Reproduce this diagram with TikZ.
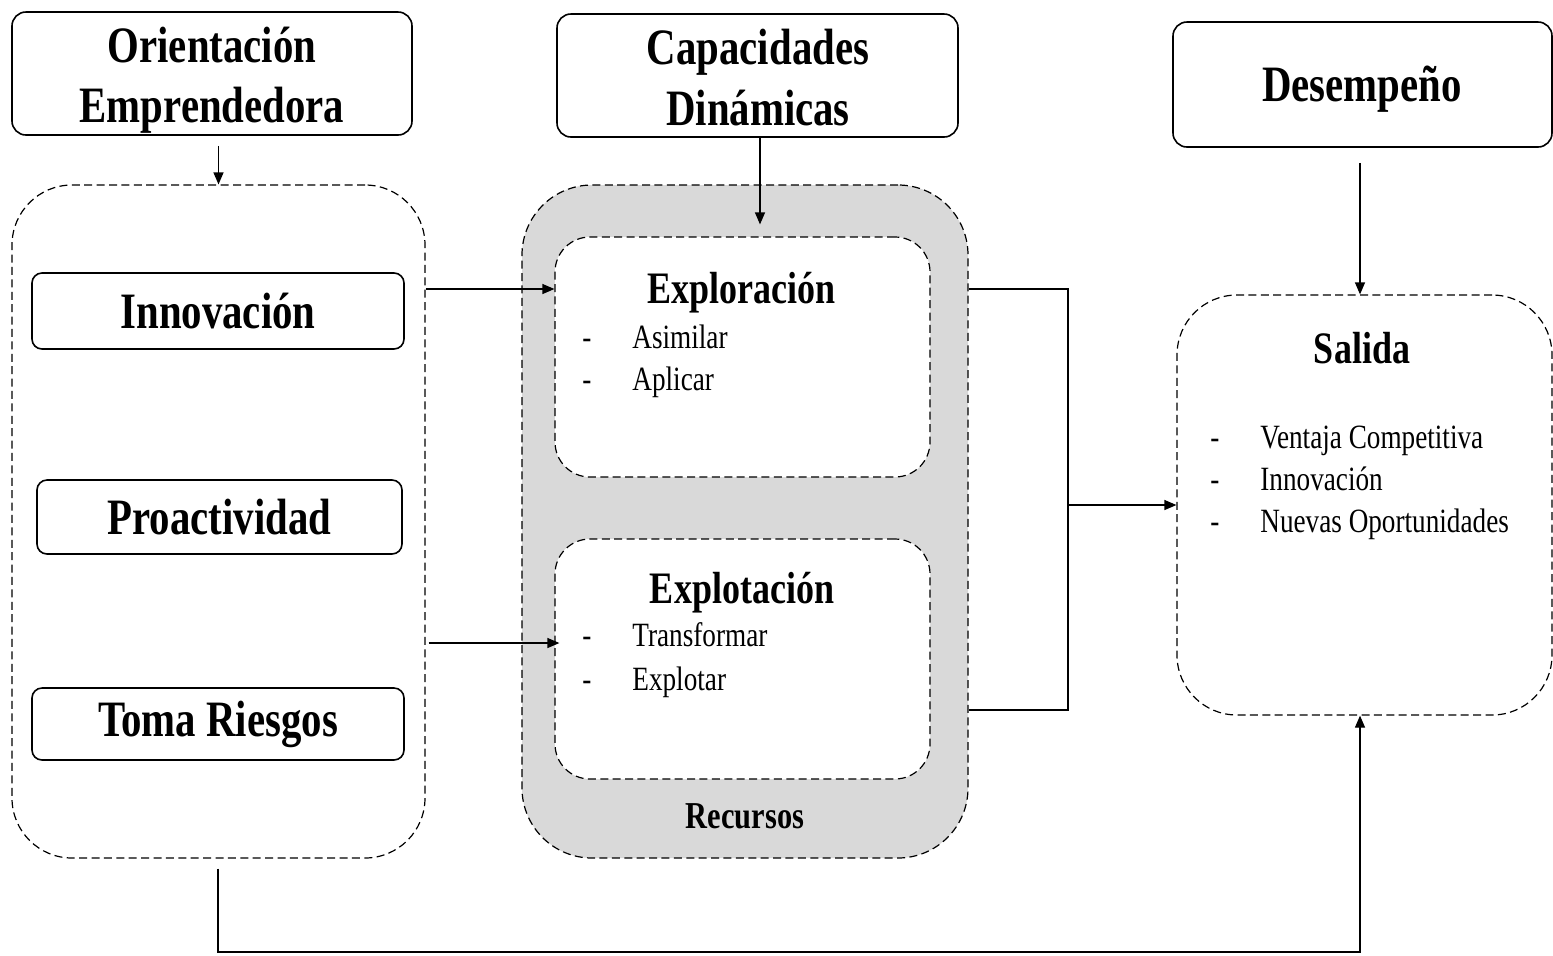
\documentclass[tikz,border=0pt]{standalone}
\usepackage{fontspec}
\setmainfont{Liberation Serif}[FakeStretch=0.8]
\usetikzlibrary{arrows.meta}
\definecolor{boxgrey}{HTML}{D9D9D9}
\tikzset{
  solidbox/.style={draw, line width=0.8pt, rounded corners=7pt, inner sep=0pt},
  dashbox/.style={draw, line width=0.6pt, dash pattern=on 4pt off 2.2pt, inner sep=0pt},
  arr/.style={line width=0.6pt, -{Triangle[length=6pt,width=5pt]}},
  plain/.style={line width=0.6pt},
  ttl/.style={font=\bfseries\fontsize{25.5}{30}\selectfont, align=center},
  ttlb/.style={font=\bfseries\fontsize{25.5}{30}\selectfont, anchor=base, inner sep=0pt},
  sub/.style={font=\bfseries\fontsize{22.5}{26}\selectfont},
  itm/.style={font=\fontsize{17}{20}\selectfont, anchor=base west, inner sep=0pt},
}
\begin{document}
\begin{tikzpicture}[x=0.5pt,y=-0.5pt]
\useasboundingbox (0,0) rectangle (1553,955);
% top boxes
\node[solidbox, minimum width=200pt, minimum height=61.5pt] (oe) at (212,73.5) {};
\node[ttlb] (oe1) at (212,62) {Orientación};
\node[ttlb] (oe2) at (212,122) {Emprendedora};
\node[solidbox, minimum width=200.5pt, minimum height=61.5pt] (cd) at (757.5,75.5) {};
\node[ttlb] (cd1) at (758,64) {Capacidades};
\node[ttlb] (cd2) at (758,125) {Dinámicas};
\node[solidbox, minimum width=189.5pt, minimum height=62.5pt] (des) at (1362.5,84.5) {};
\node[ttlb] (des1) at (1362,101) {Desempeño};
% left group
\node[dashbox, rounded corners=30pt, minimum width=206.5pt, minimum height=336.5pt] (grp) at (218.5,521.5) {};
\node[solidbox, ttl, rounded corners=5pt, minimum width=186pt, minimum height=38pt] (inn) at (218,311) {Innovación};
\node[solidbox, ttl, rounded corners=5pt, minimum width=182.5pt, minimum height=37pt] (pro) at (219.5,517) {Proactividad};
\node[solidbox, ttl, rounded corners=5pt, minimum width=186pt, minimum height=36pt] (tom) at (218,724) {Toma Riesgos};
% grey group
\node[dashbox, fill=boxgrey, rounded corners=35pt, minimum width=223pt, minimum height=336.5pt] (gry) at (745,521.5) {};
\node[dashbox, fill=white, rounded corners=17.5pt, minimum width=187.5pt, minimum height=120pt] (exr) at (742.5,357) {};
\node[dashbox, fill=white, rounded corners=17.5pt, minimum width=187.5pt, minimum height=120pt] (exp) at (742.5,659) {};
\node[sub, anchor=base, inner sep=0pt] (exrt) at (741,303) {Exploración};
\node[itm] (d1) at (582,348) {-};
\node[itm] (i1) at (632,348) {Asimilar};
\node[itm] (d2) at (582,390) {-};
\node[itm] (i2) at (632,390) {Aplicar};
\node[sub, anchor=base, inner sep=0pt] (expt) at (742,603) {Explotación};
\node[itm] (d3) at (582,646) {-};
\node[itm] (i3) at (632,646) {Transformar};
\node[itm] (d4) at (582,690) {-};
\node[itm] (i4) at (632,690) {Explotar};
\node[anchor=base, inner sep=0pt, font=\bfseries\fontsize{19}{22}\selectfont] (rec) at (745,828) {Recursos};
% salida
\node[dashbox, rounded corners=30pt, minimum width=187.5pt, minimum height=210pt] (sal) at (1364.5,505) {};
\node[sub, anchor=base, inner sep=0pt] (salt) at (1362,363) {Salida};
\node[itm] (d5) at (1210,448) {-};
\node[itm] (s1) at (1260,448) {Ventaja Competitiva};
\node[itm] (d6) at (1210,490) {-};
\node[itm] (s2) at (1260,490) {Innovación};
\node[itm] (d7) at (1210,532) {-};
\node[itm] (s3) at (1260,532) {Nuevas Oportunidades};
% connectors
\draw[arr] ([yshift=-5pt]oe.south -| grp.north) -- (grp.north);
\draw[arr] ([xshift=1.25pt]cd.south) -- ([xshift=1.25pt,yshift=6pt]cd.south |- exr.north);
\draw[arr] ([yshift=34pt]exr.west -| grp.east) -- ([yshift=34pt]exr.west);
\draw[arr] ([xshift=1.5pt,yshift=8pt]exp.west -| grp.east) -- ([xshift=2.5pt,yshift=8pt]exp.west);
\coordinate (bx) at (1068,505);
\draw[plain] ([yshift=116.25pt]gry.east) -- ([yshift=116.25pt]gry.east -| bx) -- ([yshift=-94.25pt]gry.east -| bx) -- ([yshift=-94.25pt]gry.east);
\draw[arr] (bx) -- (sal.west);
\draw[arr] ([xshift=-1.25pt,yshift=-7.5pt]des.south) -- ([xshift=-1.25pt]des.south |- sal.north);
\coordinate (bl) at (218,952);
\draw[arr] ([yshift=-5pt]grp.south -| bl) -- (bl) -- ([xshift=-2.25pt]bl -| sal.south) -- ([xshift=-2.25pt]sal.south);
\end{tikzpicture}
\end{document}
